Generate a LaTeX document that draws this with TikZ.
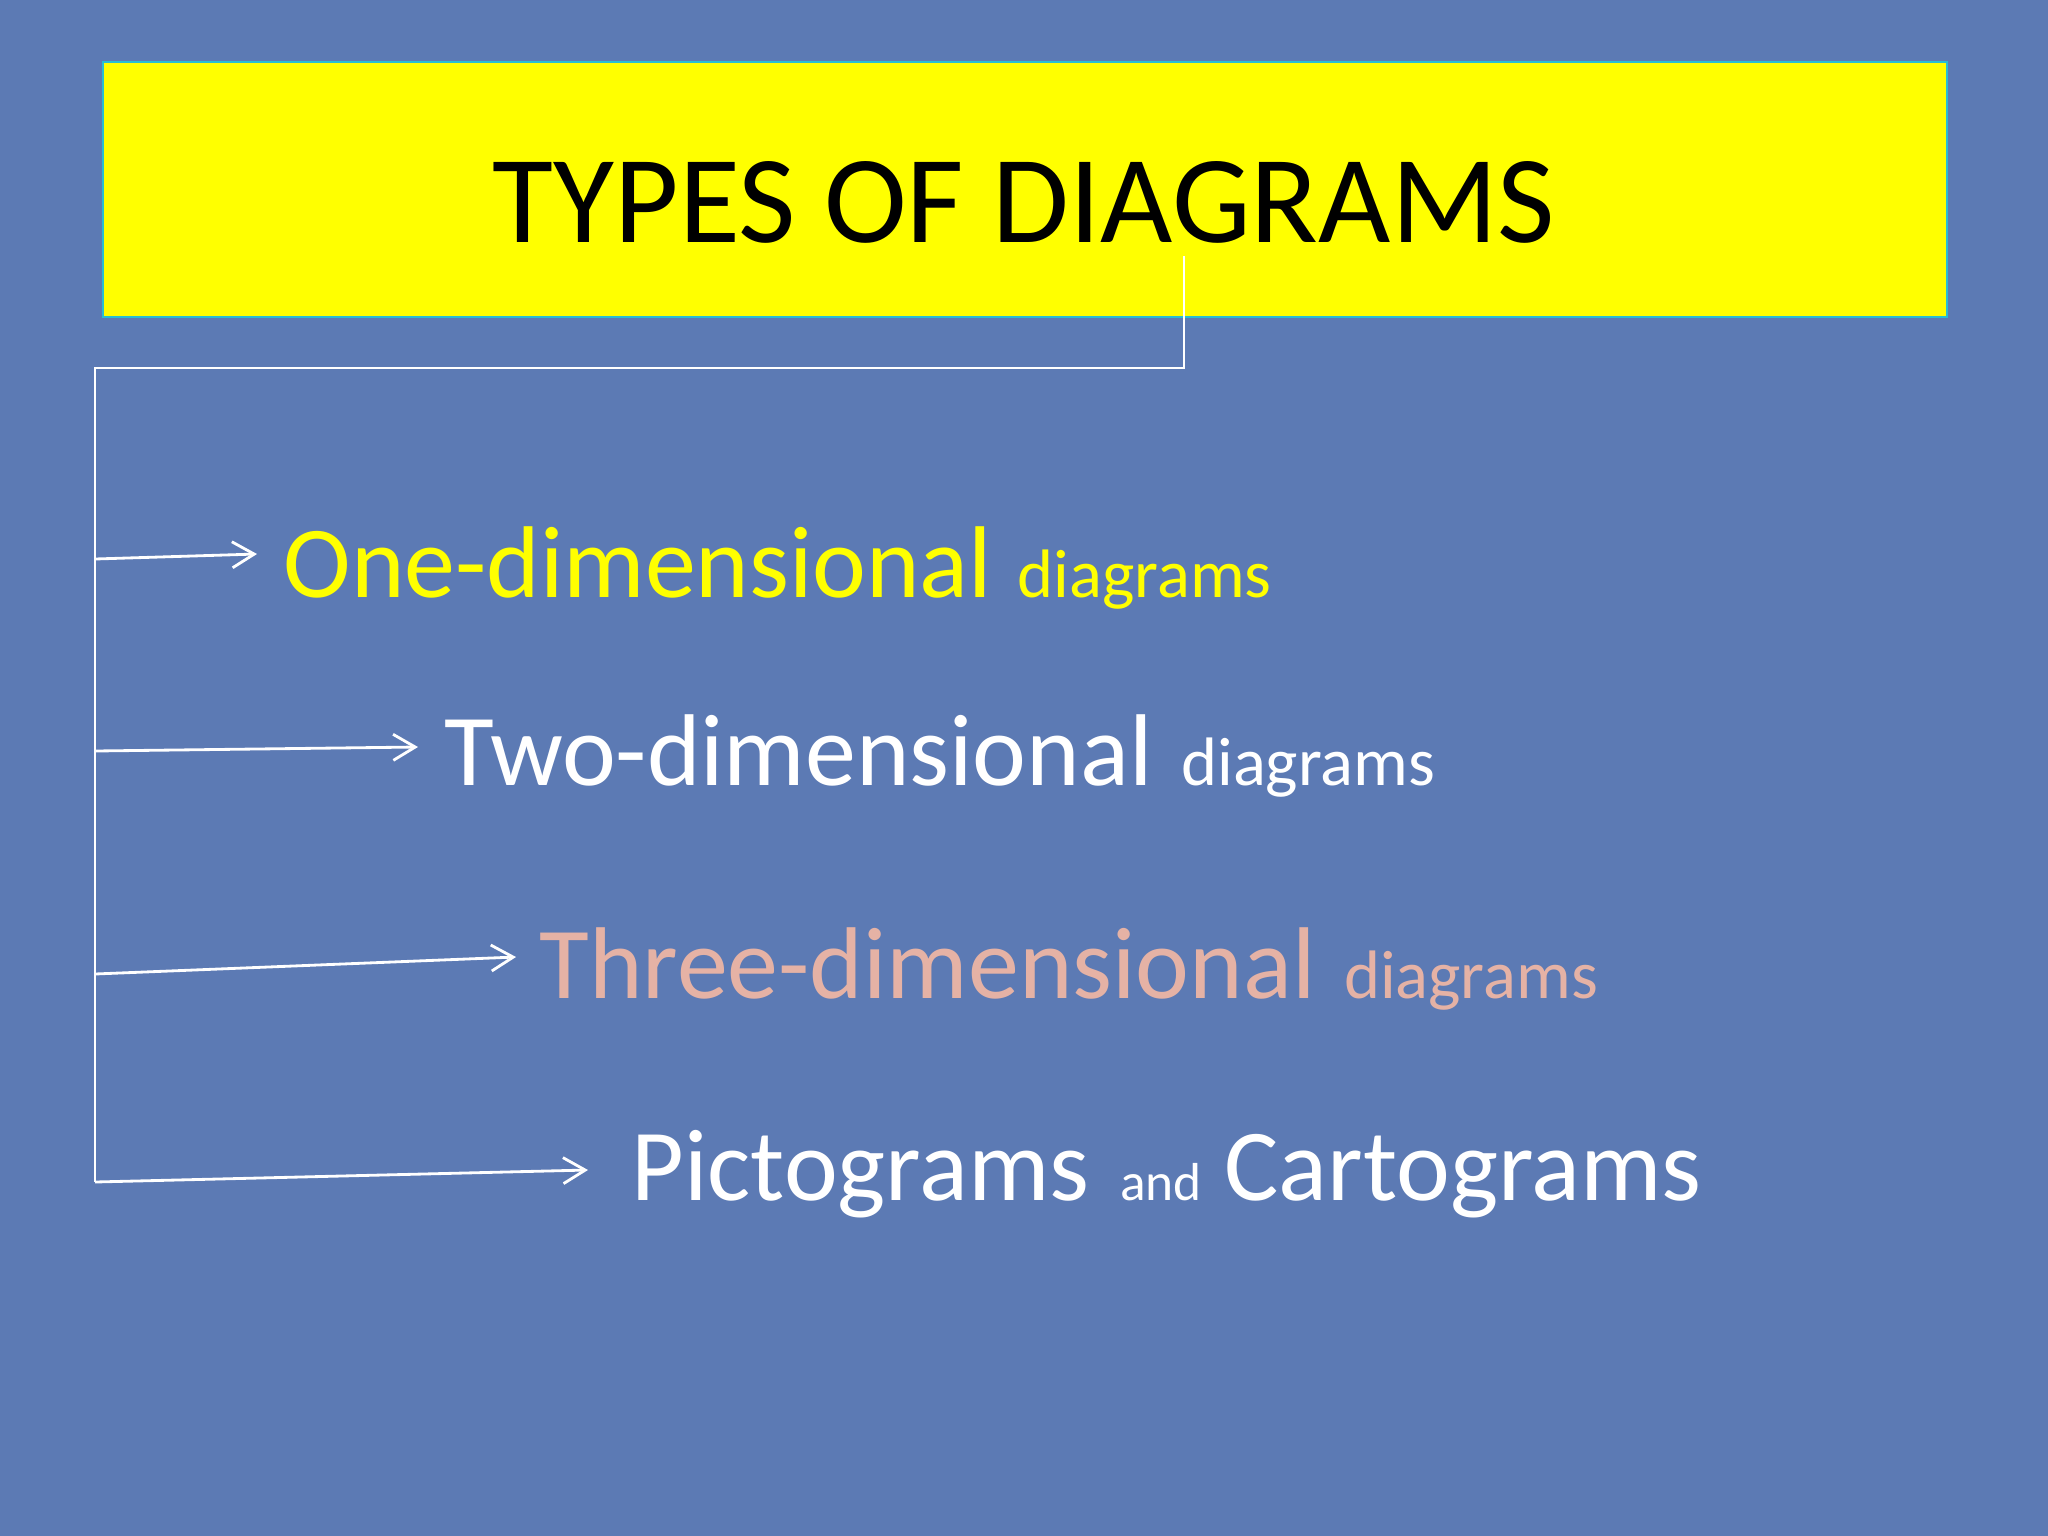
\documentclass[tikz,border=0pt]{standalone}
\usepackage{fontspec}
\setmainfont{Carlito}
\usetikzlibrary{arrows.meta}
\definecolor{bgblue}{RGB}{92,122,180}
\definecolor{titlefill}{RGB}{255,255,0}
\definecolor{titleedge}{RGB}{40,190,210}
\definecolor{pinktext}{RGB}{229,178,165}
\definecolor{yellowtext}{RGB}{255,255,0}
\tikzset{
  item/.style={anchor=base west, inner sep=0pt, font=\fontsize{29}{34}\selectfont},
  link/.style={draw=white, line width=0.8pt},
  arrowlink/.style={link, -{Straight Barb[length=0.22cm, width=0.26cm, line width=0.8pt]}},
}
\newcommand{\smallword}[1]{{\fontsize{19.5}{23}\selectfont #1}}
\newcommand{\tinyword}[1]{{\fontsize{15.2}{18}\selectfont #1}}
\begin{document}
\begin{tikzpicture}[x=0.01cm, y=-0.01cm]
  \useasboundingbox (0,0) rectangle (2048,1536);
  \fill[bgblue] (0,0) rectangle (2048,1536);
  % title box
  \node[draw=titleedge, fill=titlefill, line width=0.5pt, minimum width=18.43cm, minimum height=2.55cm, inner sep=0pt, anchor=north west] (box) at (102,61) {};
  \node[anchor=base, inner sep=0pt, font=\fontsize{35.5}{42}\selectfont] (title) at (1024,242) {TYPES OF DIAGRAMS};
  % items
  \node[item, text=yellowtext] (one) at (283,597) {One-dimensional\hspace{0.25em}\smallword{diagrams}};
  \node[item, text=white] (two) at (444,785) {Two-dimensional\hspace{0.28em}\smallword{diagrams}};
  \node[item, text=pinktext] (three) at (539,998) {Three-dimensional\hspace{0.28em}\smallword{diagrams}};
  \node[item, text=white] (four) at (631,1200) {Pictograms\hspace{0.3em}\tinyword{and}\hspace{0.22em}Cartograms};
  % trunk coordinates
  \coordinate (t0) at (1184,256);
  \coordinate (t1) at (1184,368);
  \coordinate (t2) at (95,368);
  \coordinate (b1) at (95,559);
  \coordinate (b2) at (95,751);
  \coordinate (b3) at (95,974);
  \coordinate (b4) at (95,1182);
  \coordinate (e1) at (257,554);
  \coordinate (e2) at (418,747);
  \coordinate (e3) at (516,957);
  \coordinate (e4) at (588,1170);
  \draw[link] (t0) -- (t1) -- (t2) -- (b4);
  \draw[arrowlink] (b1) -- (e1);
  \draw[arrowlink] (b2) -- (e2);
  \draw[arrowlink] (b3) -- (e3);
  \draw[arrowlink] (b4) -- (e4);
\end{tikzpicture}
\end{document}
